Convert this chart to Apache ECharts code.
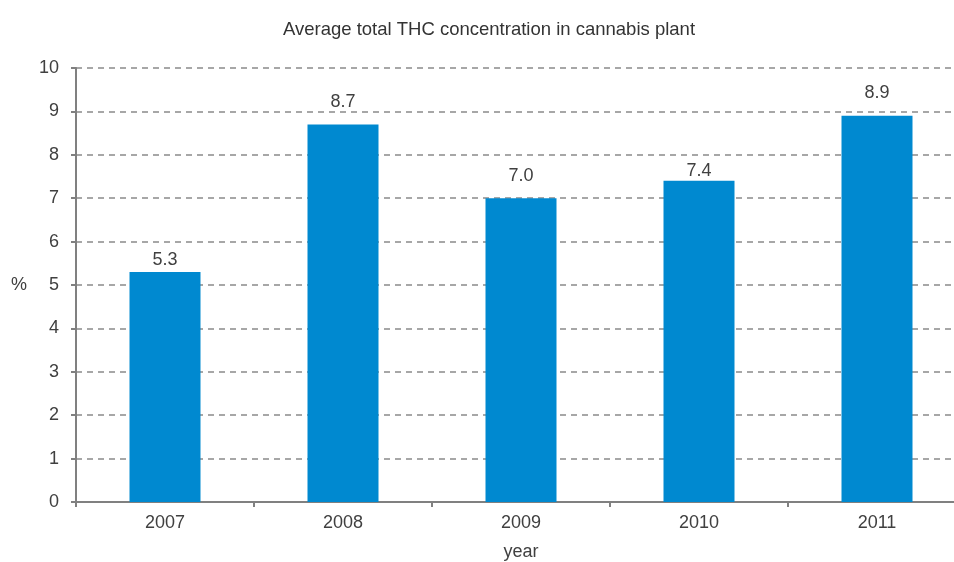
<!DOCTYPE html>
<html><head><meta charset="utf-8">
<script src="https://cdn.jsdelivr.net/npm/echarts@6/dist/echarts.min.js"></script>
<style>html,body{margin:0;padding:0;background:#fff}#c{width:954px;height:562px}</style>
</head><body><div id="c"></div>
<script>
const categories = ['2007', '2008', '2009', '2010', '2011'];
const values = [5.3, 8.7, 7.0, 7.4, 8.9];
const yTicks = [0, 1, 2, 3, 4, 5, 6, 7, 8, 9, 10];

// label placement (styling only): gap between bar top and label, in px
const labelGap = [3, 13, 13, 1, 14];

const chart = echarts.init(document.getElementById('c'));
chart.setOption({
  animation: false,
  backgroundColor: '#fff',
  title: {
    text: 'Average total THC concentration in cannabis plant',
    left: 484, top: 15, textAlign: 'center',
    textStyle: {fontFamily: 'Liberation Sans', fontSize: 18.5, fontWeight: 'normal', color: '#333'}
  },
  grid: {left: 76, top: 68, width: 890, height: 434, containLabel: false, outerBoundsMode: 'none'},
  xAxis: {
    type: 'category', data: categories,
    name: 'year', nameLocation: 'middle', nameGap: 41,
    nameTextStyle: {fontFamily: 'Liberation Sans', fontSize: 18, color: '#404040'},
    axisLine: {lineStyle: {color: '#808080', width: 2}},
    axisTick: {show: true, length: 5, lineStyle: {color: '#808080', width: 2}},
    axisLabel: {fontFamily: 'Liberation Sans', fontSize: 18, color: '#404040', margin: 12}
  },
  yAxis: {
    type: 'value', min: yTicks[0], max: yTicks[yTicks.length - 1], interval: 1,
    name: '%', nameLocation: 'middle', nameGap: 49, nameRotate: 0,
    nameTextStyle: {fontFamily: 'Liberation Sans', fontSize: 18, color: '#404040'},
    axisLine: {show: true, lineStyle: {color: '#808080', width: 2}},
    axisTick: {show: true, length: 5, lineStyle: {color: '#808080', width: 2}},
    axisLabel: {fontFamily: 'Liberation Sans', fontSize: 18, color: '#404040', margin: 17},
    splitLine: {show: true, lineStyle: {color: '#8a8a8a', width: 1.5, type: [6, 5]}}
  },
  series: [{
    type: 'bar', barWidth: 71,
    data: values.map((v, i) => ({value: v, label: {distance: labelGap[i]}})),
    itemStyle: {color: '#0089D0'},
    label: {show: true, position: 'top', distance: 3, formatter: p => p.value.toFixed(1),
      fontFamily: 'Liberation Sans', fontSize: 18, color: '#404040'}
  }]
});
</script></body></html>
